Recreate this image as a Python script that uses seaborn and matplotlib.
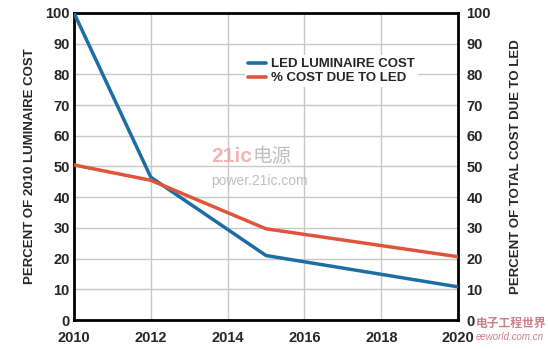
import matplotlib
matplotlib.use("Agg")
import matplotlib.pyplot as plt
import seaborn as sns
import pandas as pd
from matplotlib.lines import Line2D

years = [2010, 2012, 2015, 2020]
led_luminaire_cost = [100, 46.5, 21, 10.8]
pct_cost_due_to_led = [50.5, 45.5, 29.7, 20.6]
x_ticks = [2010, 2012, 2014, 2016, 2018, 2020]
y_ticks = [0, 10, 20, 30, 40, 50, 60, 70, 80, 90, 100]

BLUE = "#1d6da3"
RED = "#e0543b"

sns.set_theme(style="white")
plt.rcParams['font.family'] = ['Liberation Sans', 'Noto Sans CJK SC', 'DejaVu Sans']

df = pd.DataFrame({"year": years, "led": led_luminaire_cost, "pct": pct_cost_due_to_led})

fig = plt.figure(figsize=(5.48, 3.49), dpi=100)
ax = fig.add_axes([0.135, 0.083, 0.701, 0.88])

sns.lineplot(data=df, x="year", y="led", ax=ax, color=BLUE, linewidth=2.5, zorder=3)
sns.lineplot(data=df, x="year", y="pct", ax=ax, color=RED, linewidth=2.5, zorder=3)

ax.set_xlim(2010, 2020)
ax.set_ylim(0, 100)
ax.set_xticks(x_ticks)
ax.set_yticks(y_ticks)
ax.grid(True, color="#c8c8c8", linewidth=1.0)
ax.set_axisbelow(True)
for s in ax.spines.values():
    s.set_color("black")
    s.set_linewidth(2.0)
ax.tick_params(axis="y", length=0, labelsize=10.5, pad=3)
ax.tick_params(axis="x", length=0, labelsize=10.5, pad=8)
for lab in ax.get_xticklabels() + ax.get_yticklabels():
    lab.set_fontweight("bold")
ax.set_xlabel("")
ax.set_ylabel("PERCENT OF 2010 LUMINAIRE COST", fontsize=9.5, fontweight="bold", labelpad=7)

ax2 = ax.twinx()
ax2.set_ylim(0, 100)
ax2.set_yticks(y_ticks)
ax2.tick_params(axis="y", length=0, labelsize=10.5, pad=6)
for lab in ax2.get_yticklabels():
    lab.set_fontweight("bold")
for s in ax2.spines.values():
    s.set_visible(False)
ax2.set_ylabel("PERCENT OF TOTAL COST DUE TO LED", fontsize=9.5, fontweight="bold", labelpad=14)

handles = [Line2D([], [], color=BLUE, linewidth=2.6), Line2D([], [], color=RED, linewidth=2.6)]
leg = ax.legend(handles, ["LED LUMINAIRE COST", "% COST DUE TO LED"],
                loc="center", bbox_to_anchor=(0.67, 0.81), frameon=True,
                handlelength=1.4, handletextpad=0.4, labelspacing=0.15,
                prop={"weight": "bold", "size": 9.5}, borderpad=0.2)
leg.get_frame().set_facecolor("white")
leg.get_frame().set_edgecolor("none")
leg.get_frame().set_alpha(1)

# watermarks
fig.text(0.385, 0.535, "21ic", color="#f0a0a0", fontsize=15, fontweight="bold", alpha=0.8)
fig.text(0.46, 0.535, "电源", color="#b0b0b0", fontsize=14, alpha=0.8)
fig.text(0.385, 0.47, "power.21ic.com", color="#b0b0b0", fontsize=10, alpha=0.8)
fig.text(0.868, 0.062, "电子工程世界", color="#c0606a", fontsize=8.5, fontweight="bold", alpha=0.8)
fig.text(0.868, 0.025, "eeworld.com.cn", color="#c0606a", fontsize=7, style="italic", alpha=0.8)

fig.savefig("out.png", dpi=100)
